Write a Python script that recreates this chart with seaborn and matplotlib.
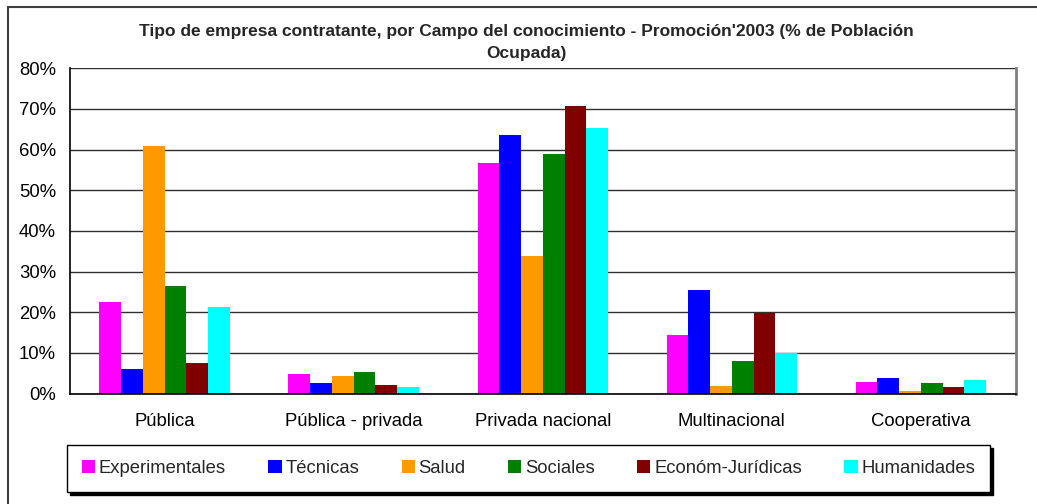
import matplotlib
matplotlib.use("Agg")
import matplotlib.pyplot as plt
import matplotlib.patches as mpatches
from matplotlib.ticker import FixedLocator, PercentFormatter
import seaborn as sns
import pandas as pd

# Company type (x categories)
categories = ["Pública", "Pública - privada", "Privada nacional", "Multinacional", "Cooperativa"]

# Field of knowledge (hue series)
fields = ["Experimentales", "Técnicas", "Salud", "Sociales", "Económ-Jurídicas", "Humanidades"]

# % of employed population, one list per field, in category order
experimentales = [22.6, 4.9, 56.8, 14.4, 2.9]
tecnicas = [6.1, 2.5, 63.7, 25.5, 3.7]
salud = [60.9, 4.3, 33.9, 1.9, 0.5]
sociales = [26.5, 5.2, 59.0, 8.0, 2.5]
econ_juridicas = [7.4, 2.0, 70.8, 19.7, 1.6]
humanidades = [21.2, 1.7, 65.4, 9.9, 3.4]

yticks = [0, 10, 20, 30, 40, 50, 60, 70, 80]

colors = ["#FF00FF", "#0000FF", "#FF9900", "#008000", "#800000", "#00FFFF"]

series = [experimentales, tecnicas, salud, sociales, econ_juridicas, humanidades]
df = pd.DataFrame(
    [(c, f, v) for f, vals in zip(fields, series) for c, v in zip(categories, vals)],
    columns=["categoria", "campo", "valor"],
)

sns.set_theme(style="white")
plt.rcParams["font.family"] = ["Liberation Sans", "DejaVu Sans"]

fig = plt.figure(figsize=(10.37, 5.04), dpi=100)
ax = fig.add_axes([0.0675, 0.2192, 0.9118, 0.6453])

sns.barplot(
    data=df, x="categoria", y="valor", hue="campo",
    order=categories, hue_order=fields, palette=colors,
    width=0.69, saturation=1, linewidth=0, ax=ax, legend=False,
)

ax.set_ylim(0, 80)
ax.set_xlim(-0.5, len(categories) - 0.5)
ax.yaxis.set_major_locator(FixedLocator(yticks))
ax.yaxis.set_major_formatter(PercentFormatter(decimals=0))
ax.grid(axis="y", color="#303030", linewidth=1.0)
ax.set_axisbelow(True)
ax.set_xlabel("")
ax.set_ylabel("")

ax.tick_params(axis="y", length=0, pad=10, labelsize=13.3, labelcolor="black")
ax.tick_params(axis="x", which="major", length=0, pad=14, labelsize=13.3, labelcolor="black")
ax.set_xticks([i + 0.5 for i in range(len(categories) - 1)], minor=True)
ax.tick_params(axis="x", which="minor", direction="in", length=5, width=1.2, color="#606060")

for side in ["left", "bottom"]:
    ax.spines[side].set_color("black")
    ax.spines[side].set_linewidth(1.2)
ax.spines["right"].set_color("#808080")
ax.spines["right"].set_linewidth(2.0)
ax.spines["top"].set_visible(False)

fig.text(0.508, 0.938, "Tipo de empresa contratante, por Campo del conocimiento - Promoción'2003 (% de Población",
         ha="center", va="center", fontsize=12.5, fontweight="bold")
fig.text(0.508, 0.894, "Ocupada)", ha="center", va="center", fontsize=12.5, fontweight="bold")

handles = [mpatches.Patch(facecolor=c, edgecolor="none", label=f) for c, f in zip(colors, fields)]
leg = fig.legend(
    handles=handles, loc="center", bbox_to_anchor=(0.0646, 0.0704, 0.890, 0), mode="expand",
    ncol=6, fontsize=13.3, frameon=True, fancybox=False, shadow={"color": "black", "alpha": 1},
    handlelength=0.72, handleheight=0.72, handletextpad=0.2, columnspacing=2.0,
    borderpad=0.8, borderaxespad=0,
)
leg.get_frame().set_edgecolor("black")
leg.get_frame().set_linewidth(1.0)

# outer chart frame
fig.patches.append(mpatches.Rectangle((8 / 1037, -0.1), 1.2, 1 - 7 / 504 + 0.1,
                                      transform=fig.transFigure, fill=False,
                                      edgecolor="#404040", linewidth=1.5))

fig.savefig("out.png", dpi=100)
